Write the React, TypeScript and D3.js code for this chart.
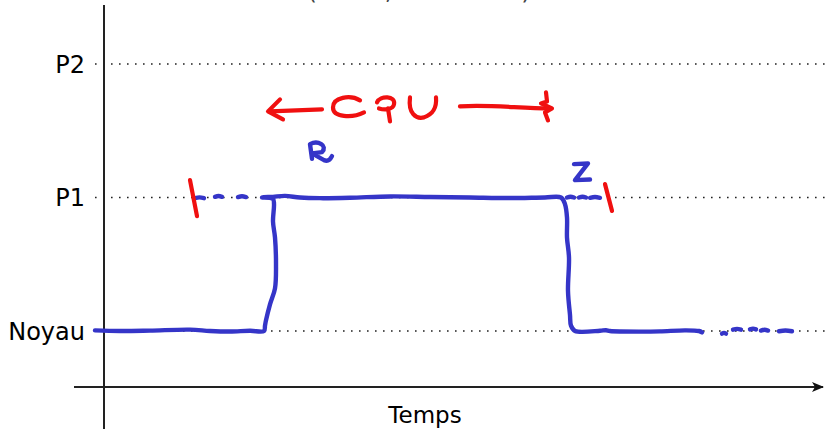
import * as d3 from 'd3'

// niveaux d'exécution (axe vertical)
const levels = ['Noyau', 'P1', 'P2']

// tracé principal à main levée : [temps, niveau]
const trace: [number, number][] = [
  [95, 0.005], [120, 0.0], [150, 0.003], [190, 0.01], [210, 0.0], [230, -0.004],
  [250, 0.002], [264, 0.0], [265, 0.04], [266, 0.08], [270, 0.2], [275, 0.32],
  [276, 0.5], [275, 0.7], [273, 0.82], [274, 0.95], [273, 0.99], [262, 1.0],
  [273, 1.005], [285, 1.012], [300, 1.0], [320, 0.995], [350, 0.998], [390, 1.008],
  [430, 1.004], [470, 1.0], [510, 0.996], [545, 1.0], [561, 1.0], [565, 0.95],
  [567, 0.85], [567, 0.7], [569, 0.55], [568, 0.3], [570, 0.12], [571, 0.04],
  [575, 0.0], [600, 0.002], [606, 0.006], [610, 0.0], [640, -0.005], [660, -0.003],
  [685, 0.005], [699, 0.0], [702, -0.01],
]

// pointillés à main levée : segments [t0, t1, niveau]
const dashes: [number, number, number][] = [
  [195, 204, 0.995], [215, 222, 1.005], [238, 246, 1.003],
  [567, 574, 1.0], [579, 586, 1.0], [590, 600, 0.998],
  [722, 726, -0.02], [733, 741, 0.01], [750, 756, 0.012], [761, 768, 0.003], [779, 792, -0.002],
]

// bornes rouges de l'intervalle CPU : [temps, niveau haut, niveau bas]
const bounds: [number, number, number][] = [
  [190, 1.13, 0.86],
  [605, 1.1, 0.9],
]

const width = 826
const height = 429
const x = d3.scaleLinear().domain([0, 826]).range([0, 826])
const y = d3.scaleLinear().domain([0, 2]).range([331, 64])

const axisX = 104
const axisY = 387

export default function App() {
  const line = d3
    .line<[number, number]>()
    .x((d) => x(d[0]))
    .y((d) => y(d[1]))
    .curve(d3.curveCatmullRom.alpha(0.5))

  const blue = '#3535c8'
  const red = '#f01010'
  const ay = y(1.66)

  return (
    <svg
      width={width}
      height={height}
      style={{ position: 'absolute', left: 0, top: 0 }}
      fontFamily="DejaVu Sans"
    >
      <defs>
        <marker id="arr" viewBox="0 0 12 10" refX={11} refY={5} markerWidth={12} markerHeight={10} markerUnits="userSpaceOnUse" orient="auto">
          <path d="M0,0 L12,5 L0,10 L3,5 Z" fill="#111" />
        </marker>
      </defs>
      {/* titre coupé en haut */}
      <text x={419} y={-1} textAnchor="middle" fontSize={24} fill="#444">
        (mode, utilisateur)
      </text>

      {/* grille pointillée */}
      {levels.map((l, i) => (
        <g key={l}>
          <line x1={95} x2={826} y1={y(i)} y2={y(i)} stroke="#222" strokeWidth={1.6} strokeDasharray="1.6 6.4" />
          <text x={85} y={y(i)} dy="0.36em" textAnchor="end" fontSize={24} fill="#000">
            {l}
          </text>
        </g>
      ))}

      {/* axes */}
      <line x1={axisX} x2={axisX} y1={5} y2={445} stroke="#222" strokeWidth={2} />
      <line x1={74} x2={823} y1={axisY} y2={axisY} stroke="#222" strokeWidth={2} markerEnd="url(#arr)" />
      <text x={425} y={423} textAnchor="middle" fontSize={23} fill="#000">
        Temps
      </text>

      {/* tracé bleu */}
      <g stroke={blue} fill="none" strokeWidth={4.4} strokeLinecap="round" strokeLinejoin="round">
        <path d={line(trace)!} />
        {dashes.map(([t0, t1, v], i) => (
          <path key={i} d={line([[t0, v], [(t0 + t1) / 2, v + 0.006], [t1, v]])!} />
        ))}
        {/* R */}
        <path d={`M${x(312)},${y(1.29)} L${x(310)},${y(1.4)} C${x(318)},${y(1.43)} ${x(328)},${y(1.39)} ${x(322)},${y(1.34)} L${x(312)},${y(1.33)} L${x(324)},${y(1.28)} C${x(327)},${y(1.27)} ${x(330)},${y(1.28)} ${x(332)},${y(1.31)}`} />
        {/* Z */}
        <path d={`M${x(574)},${y(1.25)} L${x(588)},${y(1.255)} L${x(575)},${y(1.13)} L${x(590)},${y(1.135)}`} />
      </g>

      {/* annotations rouges */}
      <g stroke={red} fill="none" strokeWidth={4.2} strokeLinecap="round" strokeLinejoin="round">
        {bounds.map(([t, v0, v1]) => (
          <path key={t} d={`M${x(t)},${y(v0)} L${x(t + 7)},${y(v1)}`} />
        ))}
        {/* flèche gauche */}
        <path d={`M${x(322)},${ay} L${x(270)},${ay + 2}`} />
        <path d={`M${x(280)},${ay - 10} L${x(268)},${ay + 2} L${x(283)},${ay + 10}`} />
        {/* C */}
        <path d={`M${x(360)},${ay - 9} C${x(350)},${ay - 15} ${x(333)},${ay - 12} ${x(333)},${ay - 2} C${x(333)},${ay + 8} ${x(352)},${ay + 9} ${x(364)},${ay + 3}`} />
        {/* P */}
        <path d={`M${x(377)},${ay - 7} C${x(380)},${ay - 14} ${x(396)},${ay - 14} ${x(394)},${ay - 5} C${x(393)},${ay} ${x(385)},${ay + 1} ${x(379)},${ay - 1} M${x(388)},${ay - 1} L${x(390)},${ay + 12}`} />
        {/* U */}
        <path d={`M${x(410)},${ay - 12} C${x(408)},${ay + 4} ${x(416)},${ay + 10} ${x(424)},${ay + 8} C${x(432)},${ay + 5} ${x(437)},${ay} ${x(436)},${ay - 12}`} />
        {/* flèche droite */}
        <path d={`M${x(460)},${ay - 3} C${x(490)},${ay - 5} ${x(520)},${ay - 1} ${x(550)},${ay - 1}`} />
        <path d={`M${x(546)},${ay - 17} L${x(547)},${ay - 8} L${x(541)},${ay - 6} L${x(552)},${ay - 1} L${x(545)},${ay + 3} L${x(548)},${ay + 11}`} />
      </g>
    </svg>
  )
}
